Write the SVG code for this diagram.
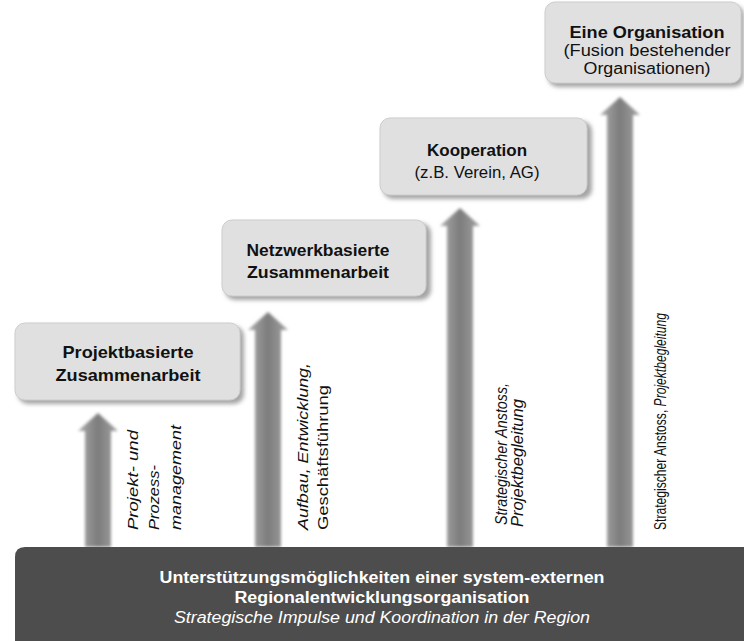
<svg xmlns="http://www.w3.org/2000/svg" width="744" height="641" viewBox="0 0 744 641">
<defs>
<style>
.box{fill:#e0e0e0;stroke:#cdcdcd;stroke-width:1}
.shadow{fill:#a5a5a5;filter:url(#soft)}
.t{font-family:"Liberation Sans",Arial,sans-serif;fill:#111;text-anchor:middle}
.b{font-weight:bold}
.bar{fill:#4d4d4d}
.w{font-family:"Liberation Sans",Arial,sans-serif;fill:#fff;text-anchor:middle;font-size:16px}
.v{font-family:"Liberation Sans",Arial,sans-serif;fill:#111;font-size:15px}
.v2{font-family:"Liberation Sans",Arial,sans-serif;fill:#111;font-size:16px}
.i{font-style:italic}
.arrow{fill:url(#ag);filter:url(#blur)}
</style>
<filter id="soft" x="-10%" y="-10%" width="120%" height="130%"><feGaussianBlur stdDeviation="2"/></filter>
<filter id="blur" x="-30%" y="-5%" width="160%" height="110%"><feGaussianBlur stdDeviation="1.5"/></filter>
<linearGradient id="ag" x1="0" y1="0" x2="1" y2="0">
<stop offset="0" stop-color="#ababab"/>
<stop offset="0.5" stop-color="#7c7c7c"/>
<stop offset="1" stop-color="#a3a3a3"/>
</linearGradient>
</defs>
<rect width="744" height="641" fill="#fff"/>

<g id="connectors">
<path class="arrow" d="M98,413 L118,431 L111,431 L111,547 L85,547 L85,431 L78,431 Z"/>
<path class="arrow" d="M268,312 L288,330 L281,330 L281,547 L255,547 L255,330 L248,330 Z"/>
<path class="arrow" d="M460,208 L480,226 L473,226 L473,547 L447,547 L447,226 L440,226 Z"/>
<path class="arrow" d="M620,97 L640,115 L633,115 L633,547 L607,547 L607,115 L600,115 Z"/>
</g>

<g id="labels">
<text class="v i" transform="translate(138,530) rotate(-90)" textLength="100" lengthAdjust="spacingAndGlyphs">Projekt- und</text>
<text class="v i" transform="translate(159,530) rotate(-90)" textLength="65" lengthAdjust="spacingAndGlyphs">Prozess-</text>
<text class="v i" transform="translate(181,530) rotate(-90)" textLength="105" lengthAdjust="spacingAndGlyphs">management</text>
<text class="v i" transform="translate(308,530) rotate(-90)" textLength="167" lengthAdjust="spacingAndGlyphs">Aufbau, Entwicklung,</text>
<text class="v" transform="translate(328,530) rotate(-90)" textLength="145" lengthAdjust="spacingAndGlyphs">Geschäftsführung</text>
<text class="v2 i" transform="translate(507,525) rotate(-90)" textLength="142" lengthAdjust="spacingAndGlyphs">Strategischer Anstoss,</text>
<text class="v2 i" transform="translate(523,527) rotate(-90)" textLength="128" lengthAdjust="spacingAndGlyphs">Projektbegleitung</text>
<text class="v2" transform="translate(666,530) rotate(-90)" textLength="217" lengthAdjust="spacingAndGlyphs">Strategischer Anstoss, <tspan class="i">Projektbegleitung</tspan></text>
</g>

<g id="box1">
<rect class="shadow" x="18" y="326" width="226" height="78" rx="10"/>
<rect class="box" x="15" y="323" width="225" height="77" rx="10"/>
<text class="t b" x="128" y="358" font-size="17" textLength="131" lengthAdjust="spacingAndGlyphs">Projektbasierte</text>
<text class="t b" x="128" y="381" font-size="17" textLength="145" lengthAdjust="spacingAndGlyphs">Zusammenarbeit</text>
</g>

<g id="box2">
<rect class="shadow" x="225" y="223" width="206" height="77" rx="10"/>
<rect class="box" x="222" y="220" width="204" height="76" rx="10"/>
<text class="t b" x="318" y="256" font-size="17" textLength="143" lengthAdjust="spacingAndGlyphs">Netzwerkbasierte</text>
<text class="t b" x="318" y="278" font-size="17" textLength="142" lengthAdjust="spacingAndGlyphs">Zusammenarbeit</text>
</g>

<g id="box3">
<rect class="shadow" x="383" y="121" width="209" height="78" rx="10"/>
<rect class="box" x="380" y="118" width="207" height="77" rx="10"/>
<text class="t b" x="477" y="156" font-size="17" textLength="100" lengthAdjust="spacingAndGlyphs">Kooperation</text>
<text class="t" x="477" y="178" font-size="17" textLength="125" lengthAdjust="spacingAndGlyphs">(z.B. Verein, AG)</text>
</g>

<g id="box4">
<rect class="shadow" x="548" y="5" width="196" height="82" rx="10"/>
<rect class="box" x="545" y="2" width="196" height="81" rx="10"/>
<text class="t b" x="647" y="38" font-size="16" textLength="155" lengthAdjust="spacingAndGlyphs">Eine Organisation</text>
<text class="t" x="647" y="56" font-size="16" textLength="167" lengthAdjust="spacingAndGlyphs">(Fusion bestehender</text>
<text class="t" x="647" y="74" font-size="16" textLength="127" lengthAdjust="spacingAndGlyphs">Organisationen)</text>
</g>

<g id="base">
<path class="bar" d="M15,641 L15,557 Q15,547 25,547 L744,547 L744,641 Z"/>
<text class="w b" x="382" y="583" textLength="445" lengthAdjust="spacingAndGlyphs">Unterstützungsmöglichkeiten einer system-externen</text>
<text class="w b" x="382" y="603" textLength="295" lengthAdjust="spacingAndGlyphs">Regionalentwicklungsorganisation</text>
<text class="w i" x="382" y="623" textLength="416" lengthAdjust="spacingAndGlyphs">Strategische Impulse und Koordination in der Region</text>
</g>
</svg>
